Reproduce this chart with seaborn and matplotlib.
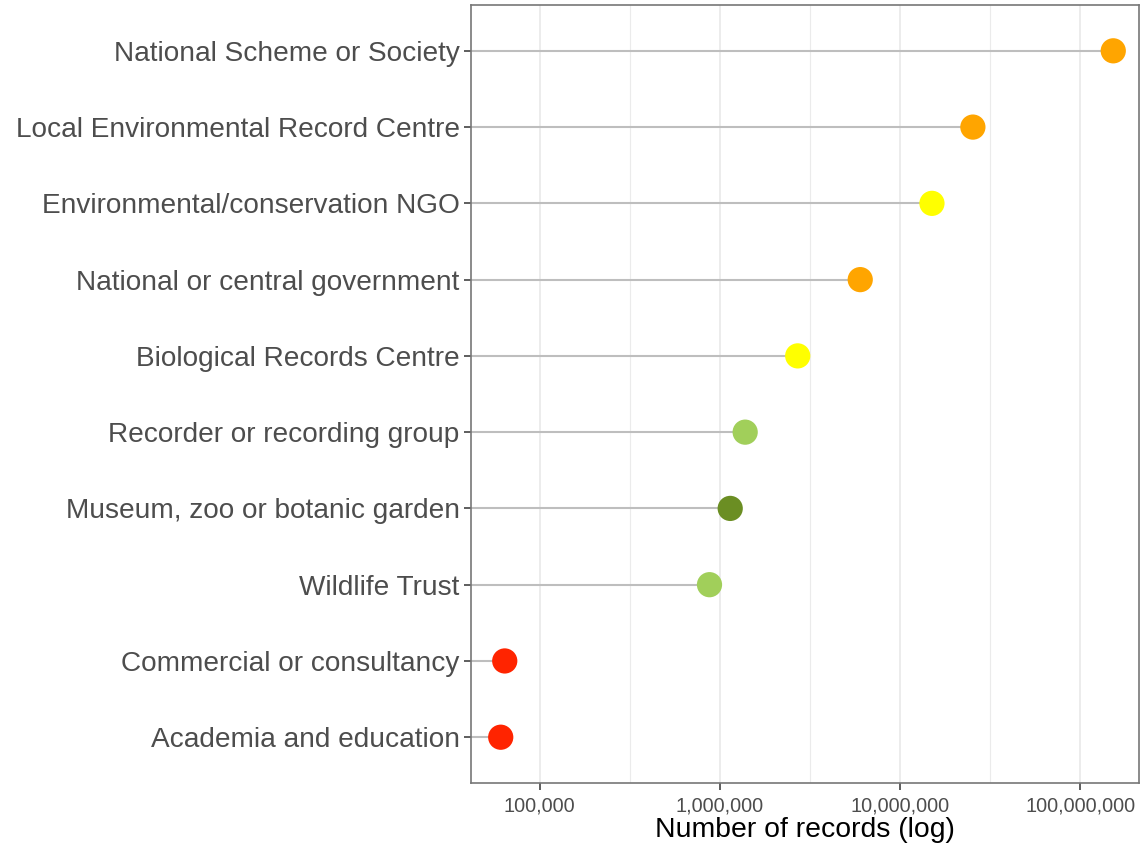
import numpy as np
import pandas as pd
import seaborn as sns
import matplotlib.pyplot as plt
from matplotlib.ticker import FixedLocator, FuncFormatter, NullFormatter

sns.set_style("white")
plt.rcParams['font.family'] = ['Liberation Sans', 'DejaVu Sans']

# categories top to bottom
categories = ["National Scheme or Society",
              "Local Environmental Record Centre",
              "Environmental/conservation NGO",
              "National or central government",
              "Biological Records Centre",
              "Recorder or recording group",
              "Museum, zoo or botanic garden",
              "Wildlife Trust",
              "Commercial or consultancy",
              "Academia and education"]
records = [152000000, 25300000, 15000000, 6000000, 2700000,
           1380000, 1140000, 875000, 64000, 60800]
colours = ["#FFA500", "#FFA500", "#FFFF00", "#FFA500", "#FFFF00",
           "#A1CF5A", "#6B8E23", "#A1CF5A", "#FF2400", "#FF2400"]

df = pd.DataFrame({'category': categories, 'records': records})
df['pos'] = np.arange(len(df))[::-1]

fig, ax = plt.subplots(figsize=(11.4, 8.44), dpi=100)
plt.subplots_adjust(left=0.413, right=0.9995, top=0.994, bottom=0.0723)

xmin, xmax = 10**4.618, 10**8.327
ax.set_xscale('log')
ax.set_xlim(xmin, xmax)
ax.set_ylim(-0.6, len(df) - 0.4)

# grid: major at decades, minor at half decades
for e in [5, 6, 7, 8]:
    ax.axvline(10**e, color='#EBEBEB', lw=1.3, zorder=0)
for e in [5.5, 6.5, 7.5]:
    ax.axvline(10**e, color='#EBEBEB', lw=0.8, zorder=0)

# stems
ax.hlines(df['pos'], xmin, df['records'], color='#BEBEBE', lw=1.5, zorder=1)

sns.scatterplot(data=df, x='records', y='pos', hue='category',
                palette=dict(zip(categories, colours)), s=330,
                edgecolor='none', legend=False, ax=ax, zorder=2)

ax.xaxis.set_major_locator(FixedLocator([1e5, 1e6, 1e7, 1e8]))
ax.xaxis.set_minor_locator(FixedLocator([]))
ax.xaxis.set_minor_formatter(NullFormatter())
ax.xaxis.set_major_formatter(FuncFormatter(lambda v, p: f"{int(v):,}"))
ax.set_yticks(df['pos'])
ax.set_yticklabels(df['category'])

ax.tick_params(axis='x', labelsize=14.3, labelcolor='#4D4D4D', length=5,
               width=1.1, color='#333333', pad=5, direction='out', bottom=True)
ax.tick_params(axis='y', labelsize=20.2, labelcolor='#4D4D4D', length=5,
               width=1.1, color='#333333', pad=3, direction='out', left=True)

for s in ax.spines.values():
    s.set_color('#777777')
    s.set_linewidth(1.2)

ax.set_xlabel("Number of records (log)", fontsize=20.4, color='black', labelpad=1)
ax.set_ylabel("")

plt.savefig("out.png", dpi=100)
